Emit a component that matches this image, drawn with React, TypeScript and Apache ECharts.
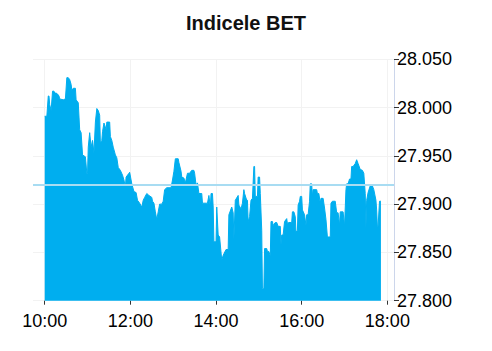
import React, { useEffect, useRef } from "react";
import * as echarts from "echarts";

const title = "Indicele BET";

const times = [
  "10:00","10:03","10:05","10:06","10:07","10:09","10:11","10:13","10:14","10:16",
  "10:18","10:20","10:21","10:26","10:29","10:31","10:33","10:35","10:37","10:38",
  "10:40","10:43","10:44","10:47","10:49","10:51","10:53","10:57","10:59","11:00",
  "11:01","11:03","11:05","11:07","11:09","11:11","11:13","11:15","11:17","11:18",
  "11:20","11:21","11:23","11:24","11:26","11:27","11:31","11:32","11:34","11:36",
  "11:39","11:41","11:43","11:46","11:49","11:51","11:53","11:54","11:58","11:59",
  "12:02","12:05","12:08","12:10","12:13","12:16","12:18","12:20","12:23","12:26",
  "12:30","12:31","12:33","12:35","12:37","12:39","12:41","12:44","12:46","12:48",
  "12:51","12:57","12:59","13:01","13:03","13:07","13:08","13:11","13:12","13:15",
  "13:17","13:20","13:23","13:26","13:29","13:30","13:32","13:34","13:36","13:40",
  "13:41","13:47","13:48","13:50","13:52","13:53","13:55","13:56","13:57","14:00",
  "14:01","14:03","14:05","14:08","14:10","14:14","14:17","14:18","14:22","14:24",
  "14:25","14:27","14:31","14:32","14:35","14:37","14:39","14:40","14:43","14:44",
  "14:45","14:47","14:49","14:51","14:53","14:54","14:55","14:58","14:59","15:01",
  "15:02","15:04","15:05","15:07","15:08","15:11","15:12","15:14","15:16","15:17",
  "15:19","15:20","15:23","15:25","15:27","15:30","15:31","15:32","15:34","15:36",
  "15:39","15:40","15:42","15:46","15:47","15:49","15:51","15:52","15:54","15:55",
  "15:57","15:58","16:00","16:01","16:04","16:06","16:07","16:09","16:11","16:12",
  "16:14","16:15","16:16","16:21","16:22","16:24","16:26","16:27","16:30","16:32",
  "16:34","16:36","16:40","16:41","16:43","16:47","16:49","16:51","16:53","16:54",
  "16:58","17:00","17:02","17:03","17:05","17:07","17:09","17:10","17:12","17:15",
  "17:17","17:19","17:22","17:25","17:27","17:29","17:30","17:31","17:33","17:36",
  "17:39","17:41","17:44","17:45","17:46","17:47","17:49","17:51"
];

const values = [
  27.991,27.991,28.012,28.012,28.003,27.997,28.017,28.017,28.015,28.015,
  28.014,28.012,28.009,28.008,28.009,28.031,28.031,28.029,28.024,28.018,
  28.020,28.020,28.008,28.005,27.977,27.974,27.951,27.949,27.932,27.932,
  27.959,27.974,27.959,27.966,27.953,27.985,27.999,27.997,27.992,27.963,
  27.966,27.975,27.984,27.982,27.977,27.985,27.985,27.970,27.966,27.959,
  27.951,27.948,27.938,27.935,27.930,27.925,27.918,27.928,27.932,27.933,
  27.921,27.913,27.912,27.904,27.901,27.897,27.904,27.907,27.911,27.909,
  27.907,27.903,27.901,27.892,27.884,27.892,27.900,27.900,27.903,27.915,
  27.917,27.917,27.925,27.934,27.947,27.947,27.943,27.934,27.928,27.927,
  27.922,27.932,27.932,27.935,27.935,27.932,27.920,27.922,27.911,27.911,
  27.901,27.901,27.901,27.909,27.897,27.911,27.911,27.897,27.861,27.861,
  27.897,27.868,27.866,27.842,27.847,27.853,27.853,27.889,27.897,27.891,
  27.863,27.904,27.909,27.899,27.895,27.901,27.915,27.911,27.904,27.904,
  27.882,27.887,27.904,27.906,27.939,27.939,27.908,27.908,27.928,27.928,
  27.911,27.873,27.813,27.812,27.854,27.854,27.851,27.851,27.846,27.882,
  27.882,27.878,27.881,27.881,27.877,27.877,27.858,27.868,27.868,27.882,
  27.885,27.880,27.881,27.881,27.892,27.892,27.887,27.871,27.873,27.899,
  27.903,27.908,27.908,27.894,27.889,27.878,27.889,27.889,27.903,27.921,
  27.921,27.908,27.915,27.915,27.911,27.911,27.901,27.906,27.906,27.896,
  27.884,27.866,27.866,27.901,27.903,27.903,27.891,27.891,27.878,27.892,
  27.892,27.877,27.915,27.921,27.921,27.926,27.926,27.939,27.939,27.942,
  27.946,27.942,27.936,27.935,27.932,27.911,27.875,27.904,27.912,27.919,
  27.919,27.915,27.904,27.894,27.877,27.877,27.903,27.903
];

const previousClose = 27.917;
const xTickLabels = ["10:00", "12:00", "14:00", "16:00", "18:00"];
const xRange = ["09:43.6", "18:09.3"];
const yMin = 27.8;
const yMax = 28.05;
const yStep = 0.05;

function toMin(t: string): number {
  const [h, m] = t.split(":");
  return parseInt(h, 10) * 60 + parseFloat(m);
}
function fmt(v: number): string {
  const h = Math.floor(v / 60);
  const m = Math.round(v - h * 60);
  return `${h}:${m < 10 ? "0" : ""}${m}`;
}

const FONT = "'Liberation Sans', Arial, sans-serif";

export default function App() {
  const ref = useRef<HTMLDivElement>(null);
  useEffect(() => {
    document.body.style.margin = "0";
    if (!ref.current) return;
    const chart = echarts.init(ref.current, null, { renderer: "svg" });
    const tickVals = xTickLabels.map(toMin);
    chart.setOption({
      animation: false,
      title: {
        text: title,
        left: "center",
        top: 8,
        textStyle: { fontFamily: FONT, fontSize: 20, fontWeight: "bold", color: "#111" },
      },
      grid: { left: 33, right: 98, top: 59.3, bottom: 50.3, containLabel: false, outerBoundsMode: "none" },
      xAxis: {
        type: "value",
        min: toMin(xRange[0]),
        max: toMin(xRange[1]),
        axisLine: { show: false },
        axisTick: { show: true, length: 4, customValues: tickVals, lineStyle: { color: "#333" } },
        axisLabel: {
          customValues: tickVals,
          formatter: (v: number) => fmt(v),
          fontFamily: FONT,
          fontSize: 18,
          color: "#000",
          margin: 11,
        },
        splitLine: { show: true, lineStyle: { color: "#f2f2f2" } },
      },
      yAxis: {
        type: "value",
        position: "right",
        min: yMin,
        max: yMax,
        interval: yStep,
        axisLine: { show: true, lineStyle: { color: "#ccd6eb" } },
        axisTick: { show: true, length: 5, lineStyle: { color: "#333" } },
        axisLabel: {
          fontFamily: FONT,
          fontSize: 18,
          color: "#000",
          margin: 3,
          formatter: (v: number) => v.toFixed(3),
        },
        splitLine: { show: true, lineStyle: { color: "#f2f2f2" } },
      },
      series: [
        {
          type: "line",
          data: times.map((t, i) => [toMin(t), values[i]]),
          symbol: "none",
          lineStyle: { color: "#00aeef", width: 1 },
          areaStyle: { color: "#00aeef", opacity: 1, origin: "start" },
          markLine: {
            silent: true,
            symbol: "none",
            label: { show: false },
            lineStyle: { color: "#a8dcf2", width: 2, type: "solid" },
            data: [{ yAxis: previousClose }],
          },
        },
      ],
    });
    return () => chart.dispose();
  }, []);
  return <div ref={ref} style={{ width: 492, height: 351 }} />;
}
